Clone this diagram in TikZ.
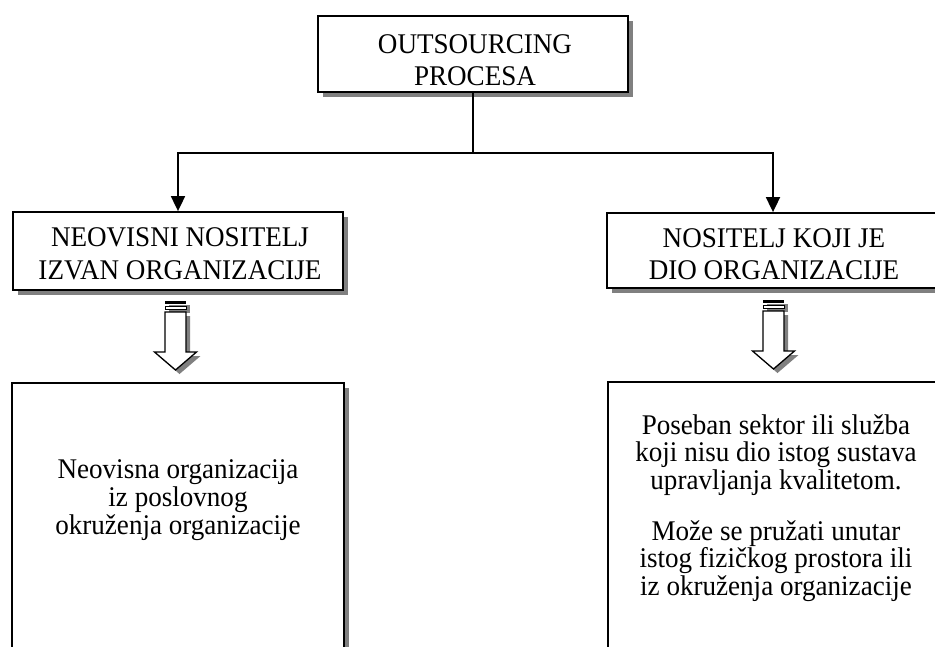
\documentclass[tikz,border=0pt]{standalone}
\usepackage{fontspec}
\setmainfont[FakeStretch=0.95]{Liberation Serif}
\usetikzlibrary{shadows,arrows.meta}
\begin{document}
\begin{tikzpicture}[x=1pt,y=-1pt,
  box/.style={draw=black, line width=1.8pt, fill=white, inner sep=0pt,
    drop shadow={shadow xshift=5pt, shadow yshift=-5pt, fill=gray, opacity=1}},
  lbl/.style={align=center, inner sep=0pt, font=\fontsize{28.5}{32.2}\selectfont},
  bodytxt/.style={align=center, inner sep=0pt, font=\fontsize{28.5}{28}\selectfont},
  conn/.style={line width=1.8pt},
  tipped/.style={-{Triangle[width=14pt,length=15pt]}},
  blockarr/.pic={
    \begin{scope}[shift={(4,4)}]
      \fill[gray] (-10.5,0) rectangle (10.5,8);
      \fill[gray] (-10.5,11) -- (-10.5,51) -- (-21,51) -- (0,69) -- (21,51) -- (10.5,51) -- (10.5,11) -- cycle;
    \end{scope}
    \fill[black] (-10.5,0) rectangle (10.5,3);
    \draw[fill=white, line width=1pt] (-10.5,5.5) rectangle (10.5,8.5);
    \draw[fill=white, line width=1.3pt, line join=miter] (-10.5,11) -- (-10.5,51) -- (-21,51) -- (0,69) -- (21,51) -- (10.5,51) -- (10.5,11) -- cycle;
  }]
\useasboundingbox (0,0) rectangle (935,646);
\fill[white] (0,0) rectangle (935,646);
\clip (0,0) rectangle (935,646);

% boxes
\node[box, minimum width=310pt, minimum height=76pt] (top) at (473,54) {};
\node[box, minimum width=330pt, minimum height=78pt] (m1) at (178,251) {};
\node[box, minimum width=332pt, minimum height=75pt] (m2) at (773,250.5) {};
\node[box, minimum width=332pt, minimum height=317pt] (b1) at (178,541.5) {};
\node[box, minimum width=332pt, minimum height=318pt] (b2) at (774,541) {};

% texts
\node[lbl] (t0) at (475,60.2) {OUTSOURCING\\PROCESA};
\node[lbl] (t1) at (180,253.7) {NEOVISNI NOSITELJ\\IZVAN ORGANIZACIJE};
\node[lbl] (t2) at (774,254.2) {NOSITELJ KOJI JE\\DIO ORGANIZACIJE};
\node[bodytxt] (t3) at (178,500) {Neovisna organizacija\\iz poslovnog\\okruženja organizacije};
\node[bodytxt, font=\fontsize{28.5}{27.4}\selectfont] (t4) at (776,508) {Poseban sektor ili služba\\koji nisu dio istog sustava\\upravljanja kvalitetom.\\[24pt]Može se pružati unutar\\istog fizičkog prostora ili\\iz okruženja organizacije};

% connectors
\coordinate (j) at (473,153);
\draw[conn] (top.south) -- (j);
\draw[conn, tipped] (j) -| (m1.north);
\draw[conn, tipped] (j) -| (m2.north);

% block arrows
\pic at (175.5,301) {blockarr};
\pic at (773.5,300) {blockarr};
\end{tikzpicture}
\end{document}
